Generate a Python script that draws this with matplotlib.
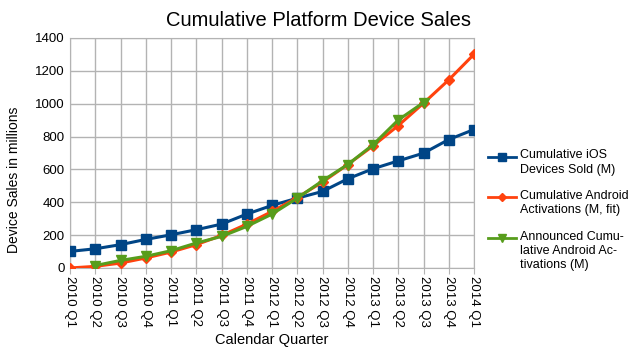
import matplotlib
matplotlib.use("Agg")
import matplotlib.pyplot as plt
from matplotlib.lines import Line2D

plt.rcParams['font.family'] = ['Liberation Sans', 'DejaVu Sans']

quarters = ["2010 Q1", "2010 Q2", "2010 Q3", "2010 Q4", "2011 Q1", "2011 Q2", "2011 Q3", "2011 Q4",
            "2012 Q1", "2012 Q2", "2012 Q3", "2012 Q4", "2013 Q1", "2013 Q2", "2013 Q3", "2013 Q4", "2014 Q1"]
ios = [101, 117, 142, 174, 202, 233, 267, 328, 381, 425, 466, 543, 604, 652, 699, 782, 843]
android_fit = [0, 10, 30, 61, 97, 142, 198, 267, 344, 429, 523, 630, 743, 867, 1003, 1145, 1301]
android_announced = [15, 46, 71, 105, 152, 192, 253, 328, 425, 531, 630, 750, 901, 1007]

series_labels = ['Cumulative iOS\nDevices Sold (M)',
                 'Cumulative Android\nActivations (M, fit)',
                 'Announced Cumu-\nlative Android Ac-\ntivations (M)']
colors = ['#004586', '#ff420e', '#579d1c']
markers = ['s', 'D', 'v']
msizes = [7, 5, 7]

W, H = 640, 350
fig = plt.figure(figsize=(6.4, 3.5), dpi=100)
ax = fig.add_axes([70 / W, 1 - 268 / H, (474 - 70) / W, (268 - 38) / H])

x = list(range(len(quarters)))
ax.plot(x, ios, color=colors[0], lw=2.2, marker=markers[0], ms=msizes[0], zorder=3)
ax.plot(x, android_fit, color=colors[1], lw=2.2, marker=markers[1], ms=msizes[1], zorder=4)
ax.plot(x[1:1 + len(android_announced)], android_announced, color=colors[2], lw=2.2,
        marker=markers[2], ms=msizes[2], zorder=5)

ax.set_xlim(0, len(quarters) - 1)
ax.set_ylim(0, 1400)
ax.set_yticks(range(0, 1401, 200))
ax.set_xticks(x)
ax.set_xticklabels(quarters, rotation=270, fontsize=9.5)
ax.tick_params(axis='y', labelsize=9.5, length=0, pad=4)
ax.tick_params(axis='x', length=4, color='#b3b3b3', pad=2)
ax.grid(True, color='#b3b3b3', lw=1)
ax.set_axisbelow(True)
for s in ax.spines.values():
    s.set_color('#b3b3b3')

fig.text(319 / W, 1 - 20 / H, 'Cumulative Platform Device Sales', fontsize=14.5, ha='center', va='center')
ax.set_xlabel('Calendar Quarter', fontsize=10.5, labelpad=4)
fig.text(14 / W, 1 - 180 / H, 'Device Sales in millions', fontsize=10, rotation=90, ha='center', va='center')

# manual legend: handle aligned with the first text line
first_line_y = [157, 197, 238]
for lab, c, m, ms, yy in zip(series_labels, colors, markers, msizes, first_line_y):
    fy = 1 - yy / H
    fig.add_artist(Line2D([488 / W, 516 / W], [fy, fy], color=c, lw=2))
    fig.add_artist(Line2D([502 / W], [fy], color=c, marker=m, ms=ms * 0.85, lw=0))
    fig.text(520 / W, 1 - (yy - 7.5) / H, lab, fontsize=9, ha='left', va='top', linespacing=1.25)

fig.savefig('out.png', dpi=100)
